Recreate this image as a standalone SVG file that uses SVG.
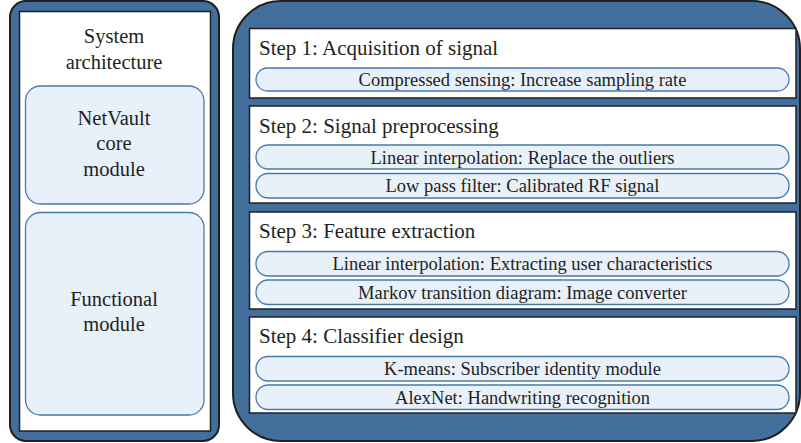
<svg xmlns="http://www.w3.org/2000/svg" width="801" height="443" viewBox="0 0 801 443">
<style>
.panel{fill:#426f9b;stroke:#231f20;stroke-width:2}
.inner{fill:#ffffff;stroke:#231f20;stroke-width:1.5}
.mod{fill:#e8f0fa;stroke:#4a79ab;stroke-width:1.3}
.pill{fill:#e8f0fa;stroke:#4a79ab;stroke-width:1.3}
text{fill:#231f20}
.lt{font-size:20.5px;text-anchor:middle}
.st{font-size:21px}
.pt{font-size:18.5px;text-anchor:middle}
</style>
<g id="left-panel">
<rect class="panel" x="10" y="1" width="209" height="440" rx="16"/>
<rect class="inner" x="19.5" y="11.5" width="191" height="419.5"/>
</g>
<g font-family="'Liberation Serif', 'DejaVu Serif', serif">
<g id="left-title">
<text class="lt" x="114" y="43">System</text>
<text class="lt" x="114" y="69">architecture</text>
</g>
<g id="netvault">
<rect class="mod" x="25.5" y="86" width="178.5" height="118" rx="15"/>
<text class="lt" x="114" y="125">NetVault</text>
<text class="lt" x="114" y="150">core</text>
<text class="lt" x="114" y="176">module</text>
</g>
<g id="functional">
<rect class="mod" x="25.5" y="212.5" width="178.5" height="202.5" rx="15"/>
<text class="lt" x="114" y="306">Functional</text>
<text class="lt" x="114" y="331">module</text>
</g>
<g id="right-panel">
<rect class="panel" x="233" y="1" width="567" height="440" rx="48"/>
</g>
<g id="step1">
<rect class="inner" x="249.5" y="28.5" width="546.5" height="69.5"/>
<text class="st" x="259" y="55">Step 1: Acquisition of signal</text>
<rect class="pill" x="256" y="68" width="533" height="23" rx="11.5"/>
<text class="pt" x="522.5" y="86">Compressed sensing: Increase sampling rate</text>
</g>
<g id="step2">
<rect class="inner" x="249.5" y="106" width="546.5" height="97"/>
<text class="st" x="259" y="133">Step 2: Signal preprocessing</text>
<rect class="pill" x="256" y="145" width="533" height="24" rx="12"/>
<text class="pt" x="522.5" y="163.5">Linear interpolation: Replace the outliers</text>
<rect class="pill" x="256" y="173.5" width="533" height="24.5" rx="12"/>
<text class="pt" x="522.5" y="192">Low pass filter: Calibrated RF signal</text>
</g>
<g id="step3">
<rect class="inner" x="249.5" y="212" width="546.5" height="97"/>
<text class="st" x="259" y="238">Step 3: Feature extraction</text>
<rect class="pill" x="256" y="251.5" width="533" height="24.5" rx="12"/>
<text class="pt" x="522.5" y="270">Linear interpolation: Extracting user characteristics</text>
<rect class="pill" x="256" y="280" width="533" height="24.5" rx="12"/>
<text class="pt" x="522.5" y="298.5">Markov transition diagram: Image converter</text>
</g>
<g id="step4">
<rect class="inner" x="249.5" y="317" width="546.5" height="96"/>
<text class="st" x="259" y="343">Step 4: Classifier design</text>
<rect class="pill" x="256" y="356.5" width="533" height="24.5" rx="12"/>
<text class="pt" x="522.5" y="375">K-means: Subscriber identity module</text>
<rect class="pill" x="256" y="385" width="533" height="24.5" rx="12"/>
<text class="pt" x="522.5" y="403.5">AlexNet: Handwriting recognition</text>
</g>
</g>
<g id="connectors"/>
</svg>
